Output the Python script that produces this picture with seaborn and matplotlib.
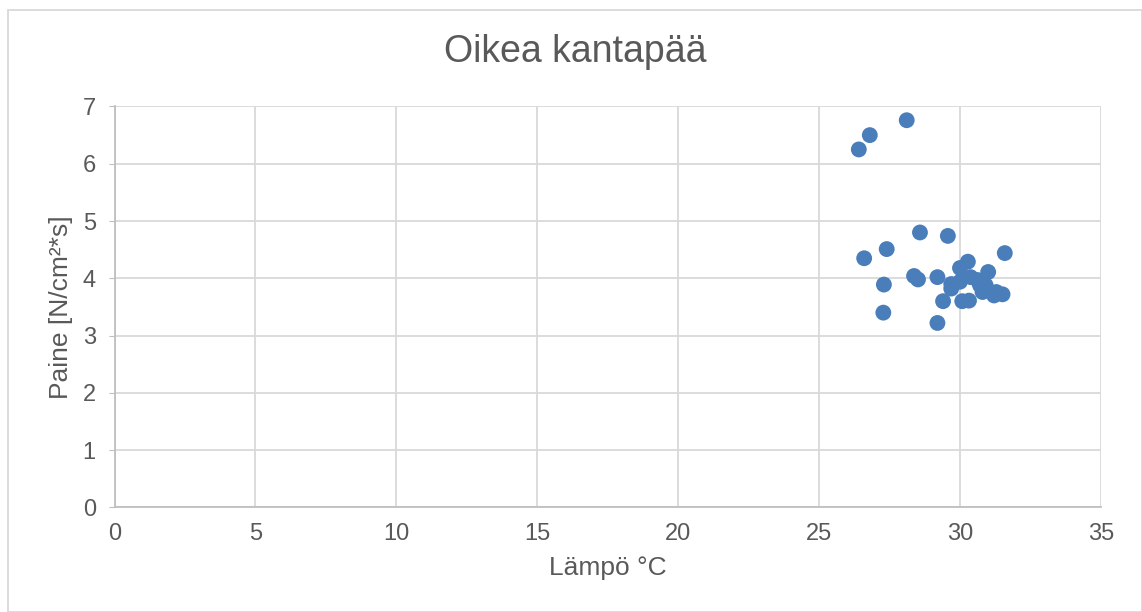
import matplotlib
matplotlib.use('Agg')
import matplotlib.pyplot as plt
import seaborn as sns
import pandas as pd

# Data
lampo = [28.11, 26.80, 26.41, 28.58, 29.57, 27.40, 26.60, 31.59, 30.28, 30.00,
         31.00, 28.37, 28.51, 29.20, 27.30, 29.69, 29.69, 30.00, 30.38, 30.62,
         30.71, 30.91, 30.80, 31.21, 31.29, 31.51, 29.40, 30.08, 30.32, 27.28,
         29.20]
paine = [6.76, 6.50, 6.25, 4.80, 4.74, 4.51, 4.35, 4.44, 4.29, 4.18,
         4.11, 4.04, 3.98, 4.02, 3.89, 3.90, 3.82, 3.94, 4.02, 3.97,
         3.88, 3.88, 3.76, 3.70, 3.76, 3.72, 3.60, 3.60, 3.61, 3.40,
         3.22]

df = pd.DataFrame({'lampo': lampo, 'paine': paine})

sns.set_style('white')
plt.rcParams['font.family'] = ['Liberation Sans', 'DejaVu Sans']

text_col = '#595959'
grid_col = '#d9d9d9'

fig = plt.figure(figsize=(11.42, 6.12), dpi=100)
ax = fig.add_axes([0.1003, 0.171, 0.8637, 0.655])

sns.scatterplot(x='lampo', y='paine', data=df, color='#4a7ebb', s=130,
                edgecolor='none', ax=ax, zorder=3)

ax.set_xlim(0, 35)
ax.set_ylim(0, 7)
ax.set_xticks(range(0, 36, 5))
ax.set_yticks(range(0, 8))
ax.grid(True, color=grid_col, linewidth=1.3)
ax.set_axisbelow(True)

for side in ['top', 'right']:
    ax.spines[side].set_visible(False)
for side in ['left', 'bottom']:
    ax.spines[side].set_color('#bfbfbf')
    ax.spines[side].set_linewidth(1.3)

ax.tick_params(axis='y', left=True, length=4.5, color='#bfbfbf', labelsize=17,
               labelcolor=text_col, pad=9)
ax.tick_params(axis='x', bottom=False, labelsize=17, labelcolor=text_col, pad=8)

# chart title is centred on the whole chart area, not on the plot area
fig.text(0.504, 0.915, 'Oikea kantapää', fontsize=27, color=text_col,
         ha='center', va='center')
ax.set_xlabel('Lämpö °C', fontsize=19, color=text_col, labelpad=8)
ax.set_ylabel('Paine [N/cm²*s]', fontsize=19, color=text_col, labelpad=7)

# outer chart border
fig.patches.append(plt.Rectangle((8 / 1142, 0), 1 - 8 / 1142, 1 - 10 / 612,
                                 transform=fig.transFigure, fill=False,
                                 edgecolor=grid_col, linewidth=1.3))

fig.savefig('out.png', dpi=100)
